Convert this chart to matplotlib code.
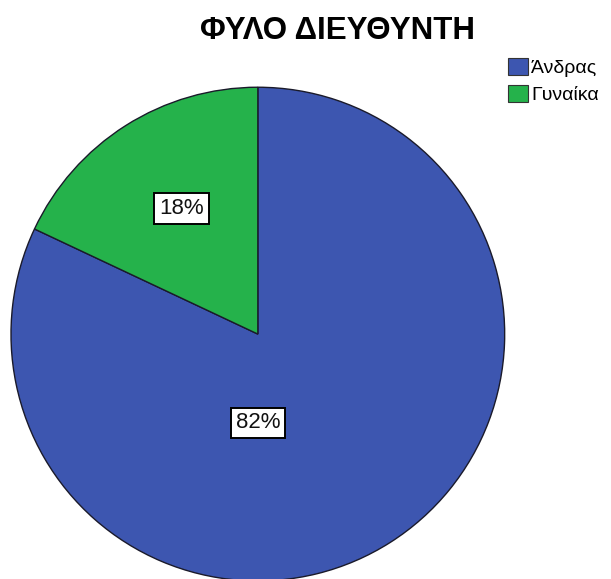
import matplotlib.pyplot as plt
from matplotlib.patches import Patch

labels = ['Άνδρας', 'Γυναίκα']
shares = [82, 18]
colors = ['#3d56b0', '#25b24b']
# where each percentage box sits, as (x, y) in pie-radius units
label_pos = [(0.0, -0.36), (-0.31, 0.51)]

plt.rcParams['font.family'] = ['Liberation Sans', 'DejaVu Sans']

fig = plt.figure(figsize=(6.11, 5.79), dpi=100)
ax = fig.add_axes([0.018, -0.0035, 0.808, 0.853])

wedges, texts, autotexts = ax.pie(
    shares,
    colors=colors,
    startangle=90,
    counterclock=False,
    autopct='%1.0f%%',
    wedgeprops=dict(edgecolor='#1a1a2a', linewidth=1.0),
    textprops=dict(fontsize=16, color='#111111'),
)
for t, pos in zip(autotexts, label_pos):
    t.set_position(pos)
    t.set_bbox(dict(boxstyle='square,pad=0.22', facecolor='white', edgecolor='black', linewidth=1.4))

ax.set_xlim(-1.0, 1.0)
ax.set_ylim(-1.0, 1.0)
ax.set_aspect('equal')
ax.axis('off')

fig.text(0.552, 0.946, 'ΦΥΛΟ ΔΙΕΥΘΥΝΤΗ', ha='center', va='center', fontsize=22.5, fontweight='bold')

handles = [Patch(facecolor=c, edgecolor='#333333', linewidth=0.8) for c in colors]
fig.legend(handles, labels, loc='upper left', bbox_to_anchor=(0.831, 0.9), frameon=False,
           fontsize=14, handlelength=1.05, handleheight=0.95, handletextpad=0.15,
           labelspacing=0.4, borderaxespad=0, borderpad=0)

fig.savefig('out.png', dpi=100, facecolor='white')
